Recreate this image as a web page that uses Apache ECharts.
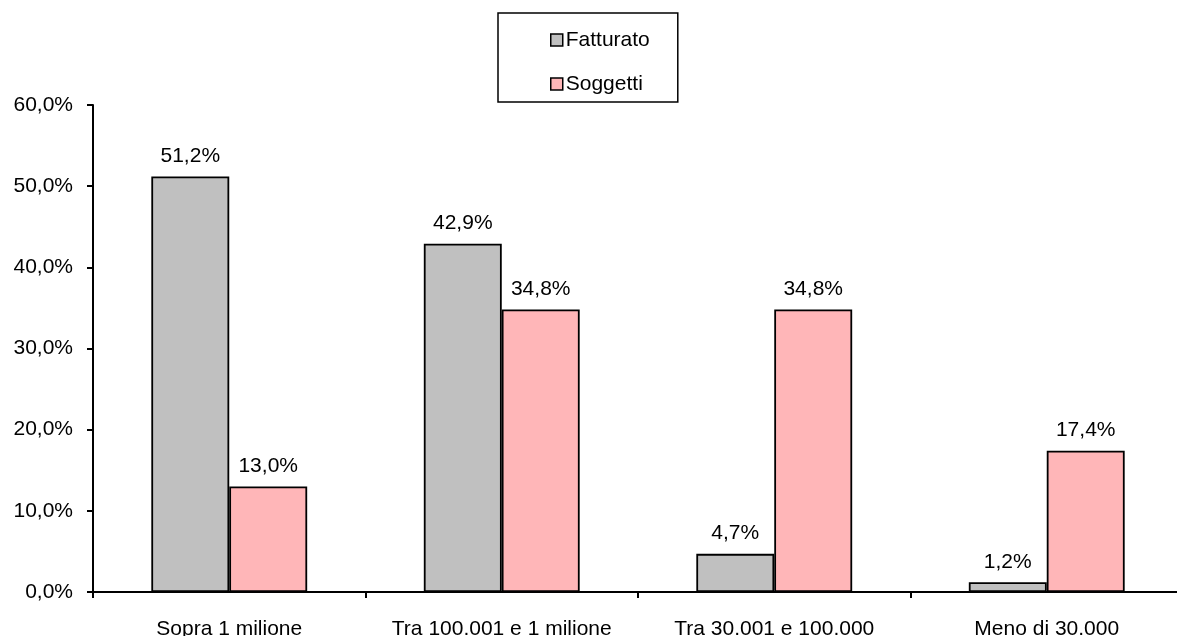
<!DOCTYPE html>
<html>
<head>
<meta charset="utf-8">
<script src="https://cdn.jsdelivr.net/npm/echarts@6/dist/echarts.min.js"></script>
<style>
  html, body { margin: 0; padding: 0; background: #fff; }
  #chart { width: 1177px; height: 636px; }
</style>
</head>
<body>
<div id="chart"></div>
<script>
// Fasce di fatturato
const categories = ['Sopra 1 milione', 'Tra 100.001 e 1 milione', 'Tra 30.001 e 100.000', 'Meno di 30.000'];
// Quote percentuali per fascia
const fatturato = [51.2, 42.9, 4.7, 1.2];
const soggetti = [13.0, 34.8, 34.8, 17.4];
// Asse verticale
const yTicks = [0, 10, 20, 30, 40, 50, 60];

const FONT = '"Liberation Sans", Arial, sans-serif';
const FS = 21;
const pct = v => v.toFixed(1).replace('.', ',') + '%';

const chart = echarts.init(document.getElementById('chart'), null, { renderer: 'canvas' });

const labelStyle = {
  show: true,
  position: 'top',
  distance: 10,
  color: '#000',
  fontFamily: FONT,
  fontSize: FS,
  formatter: p => pct(p.value)
};

chart.setOption({
  animation: false,
  backgroundColor: '#fff',
  textStyle: { fontFamily: FONT },
  legend: {
    left: 498,
    top: 13,
    orient: 'vertical',
    backgroundColor: '#fff',
    borderColor: '#000',
    borderWidth: 1.5,
    borderRadius: 0,
    padding: [16, 28, 7, 52],
    itemGap: 22,
    itemWidth: 12,
    itemHeight: 12,
    icon: 'rect',
    itemStyle: { borderColor: '#000', borderWidth: 1.5 },
    textStyle: { color: '#000', fontSize: FS, fontFamily: FONT, lineHeight: 22, padding: [0, 0, 0, -2] },
    data: ['Fatturato', 'Soggetti']
  },
  // the plot runs a few pixels past the right edge of the canvas
  grid: { left: 93, width: 1090, top: 105, bottom: 44, containLabel: false, outerBoundsMode: 'none' },
  xAxis: {
    type: 'category',
    data: categories,
    boundaryGap: true,
    axisLine: { lineStyle: { color: '#000', width: 2 } },
    axisTick: { show: true, interval: 0, length: 6, alignWithLabel: false, lineStyle: { color: '#000', width: 2 } },
    axisLabel: { interval: 0, color: '#000', fontSize: FS, fontFamily: FONT, margin: 27 },
    splitLine: { show: false }
  },
  yAxis: {
    type: 'value',
    min: yTicks[0],
    max: yTicks[yTicks.length - 1],
    interval: yTicks[1] - yTicks[0],
    axisLine: { show: true, lineStyle: { color: '#000', width: 2 } },
    axisTick: { show: true, length: 6, lineStyle: { color: '#000', width: 2 } },
    axisLabel: { color: '#000', fontSize: FS, fontFamily: FONT, margin: 20, formatter: v => pct(v) },
    splitLine: { show: false }
  },
  series: [
    {
      name: 'Fatturato',
      type: 'bar',
      data: fatturato,
      barWidth: '28.6%',
      barGap: '0%',
      itemStyle: { color: '#C0C0C0', borderColor: '#000', borderWidth: 1.8 },
      label: labelStyle
    },
    {
      name: 'Soggetti',
      type: 'bar',
      data: soggetti,
      barWidth: '28.6%',
      itemStyle: { color: '#FFB6B8', borderColor: '#000', borderWidth: 1.8 },
      label: labelStyle
    }
  ]
});
</script>
</body>
</html>
